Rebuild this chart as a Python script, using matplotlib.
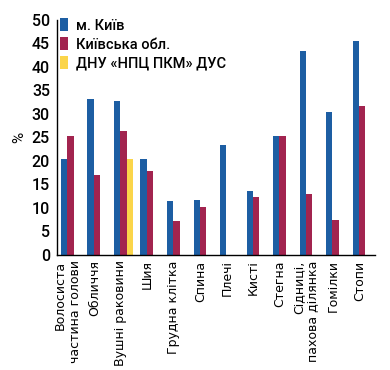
import numpy as np
import matplotlib
matplotlib.use("Agg")
import matplotlib.pyplot as plt

plt.rcParams['font.family'] = ['Roboto', 'DejaVu Sans']
plt.rcParams['font.weight'] = 'medium'

regions = ["Волосиста\nчастина голови", "Обличчя", "Вушні раковини", "Шия",
           "Грудна клітка", "Спина", "Плечі", "Кисті", "Стегна",
           "Сідниці,\nпахова ділянка", "Гомілки", "Стопи"]
kyiv_city = [20.5, 33.2, 32.8, 20.4, 11.4, 11.7, 23.3, 13.6, 25.4, 43.5, 30.4, 45.5]
kyiv_obl = [25.4, 17.0, 26.3, 17.9, 7.2, 10.2, 0, 12.3, 25.4, 12.9, 7.4, 31.8]
dnu = [0, 0, 20.4, 0, 0, 0, 0, 0, 0, 0, 0, 0]

series_names = ["м. Київ", "Київська обл.", "ДНУ «НПЦ ПКМ» ДУС"]
colors = ["#1d5ea3", "#a2244f", "#fbd54a"]

fig = plt.figure(figsize=(3.9, 3.7), dpi=100)
ax = fig.add_axes([0.146, 0.311, 0.816, 0.635])

x = np.arange(len(regions))
w = 0.24
for k, (vals, name, c) in enumerate(zip([kyiv_city, kyiv_obl, dnu], series_names, colors)):
    ax.bar(x + k * w, vals, width=w, align='edge', color=c, label=name, linewidth=0)

ax.set_xlim(-0.15, 11.85)
ax.set_ylim(0, 50)
ax.set_yticks(range(0, 51, 5))
ax.tick_params(axis='y', length=0, pad=5, labelsize=11.5)
ax.tick_params(axis='x', length=0, pad=4)
ax.set_xticks(x + w * 1.1)
ax.set_xticklabels(regions, rotation=90, fontsize=9, va='top', ha='center',
                   multialignment='right', family='DejaVu Sans', weight='normal')

for s in ['top', 'right']:
    ax.spines[s].set_visible(False)
ax.spines['left'].set_linewidth(1.0)
ax.spines['bottom'].set_linewidth(1.0)

ax.set_ylabel('%', fontsize=11, labelpad=4)

ax.legend(loc='upper left', bbox_to_anchor=(-0.01, 1.032), frameon=False,
          fontsize=10.5, handlelength=0.6, handleheight=1.0, handletextpad=0.5,
          labelspacing=0.3, borderaxespad=0)

fig.savefig("out.png", dpi=100)
